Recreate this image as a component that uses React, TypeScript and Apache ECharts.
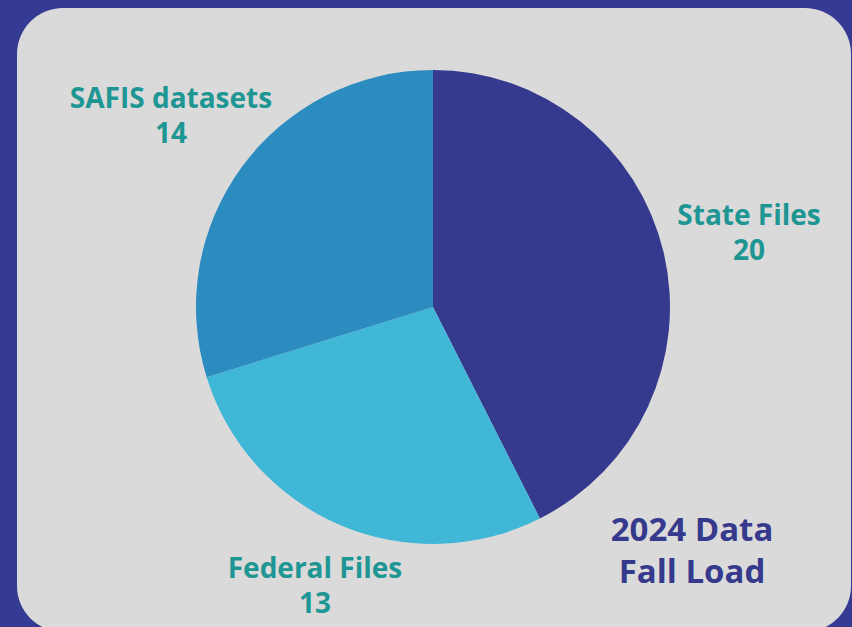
import React, { useEffect, useRef } from "react";
import * as echarts from "echarts";

const categories = ["State Files", "Federal Files", "SAFIS datasets"];
const values = [20, 13, 14];
const sliceColors = ["#363a8f", "#40b7d7", "#2c8bbf"];
const titleLines = ["2024 Data", "Fall Load"];

export default function App() {
  const ref = useRef<HTMLDivElement>(null);
  useEffect(() => {
    document.body.style.margin = "0";
    const chart = echarts.init(ref.current!, undefined, { renderer: "svg" });
    const labelPos = [
      { x: 749, y: 231 },
      { x: 315, y: 584 },
      { x: 171, y: 114 },
    ];
    const font = "'Open Sans', 'Noto Sans', sans-serif";
    const txt = (x: number, y: number, text: string, size: number, fill: string) => ({
      type: "text",
      x,
      y,
      style: {
        text,
        fill,
        font: `bold ${size}px ${font}`,
        align: "center",
        verticalAlign: "middle",
      },
    });
    chart.setOption({
      animation: false,
      backgroundColor: "#353a92",
      graphic: [
        {
          type: "rect",
          z: -10,
          shape: { x: 17, y: 8, width: 834, height: 624, r: 46 },
          style: { fill: "#dadada" },
        },
        ...categories.flatMap((c, i) => [
          txt(labelPos[i].x, labelPos[i].y - 17, c, 28, "#1e9694"),
          txt(labelPos[i].x, labelPos[i].y + 17.5, String(values[i]), 28, "#1e9694"),
        ]),
        txt(692, 528, titleLines[0], 33, "#363a8d"),
        txt(692, 570, titleLines[1], 33, "#363a8d"),
      ],
      series: [
        {
          type: "pie",
          center: [433, 307],
          radius: 237,
          startAngle: 90,
          clockwise: true,
          label: { show: false },
          labelLine: { show: false },
          emphasis: { disabled: true },
          data: categories.map((c, i) => ({
            name: c,
            value: values[i],
            itemStyle: { color: sliceColors[i] },
          })),
        },
      ],
    });
    return () => chart.dispose();
  }, []);
  return (
    <div
      ref={ref}
      style={{ position: "absolute", left: 0, top: 0, width: 852, height: 627 }}
    />
  );
}
